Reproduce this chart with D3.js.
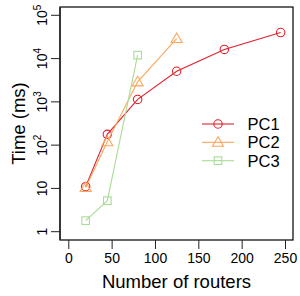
<!DOCTYPE html>
<html>
<head>
<meta charset="utf-8">
<script src="https://cdn.jsdelivr.net/npm/d3@7"></script>
<style>
  body { margin: 0; background: #fff; }
  text { font-family: "Liberation Sans", Arial, sans-serif; fill: #000; }
</style>
</head>
<body>
<svg id="chart"></svg>
<script>
// data
const seriesNames = ['PC1', 'PC2', 'PC3'];
const pc1Routers = [20, 45, 80, 125, 180, 245];
const pc1Time = [11, 178, 1140, 5100, 16300, 40000];
const pc2Routers = [20, 45, 80, 125];
const pc2Time = [10.5, 120, 2900, 29000];
const pc3Routers = [20, 45, 80];
const pc3Time = [1.8, 5.2, 12000];
const xTicks = [0, 50, 100, 150, 200, 250];
const yTicks = [1, 10, 100, 1000, 10000, 100000];

const colors = ['#e2202a', '#fda55a', '#a9dc94'];

const width = 300;
const height = 296;
const box = { left: 60, right: 293, top: 7, bottom: 240 };

const svg = d3.select('#chart')
    .attr('width', width)
    .attr('height', height);

// scales
const xScale = d3.scaleLinear().domain([0, 250]).range([68.3, 285]);
const yScale = d3.scaleLog().domain([1, 100000]).range([231.7, 15.3]);

// box
svg.append('rect')
    .attr('x', box.left)
    .attr('y', box.top)
    .attr('width', box.right - box.left)
    .attr('height', box.bottom - box.top)
    .attr('fill', 'none')
    .attr('stroke', '#000')
    .attr('stroke-width', 1.2);

// x axis
const xAxis = svg.append('g')
    .attr('transform', `translate(0, ${box.bottom})`)
    .call(d3.axisBottom(xScale).tickValues(xTicks).tickSize(9).tickPadding(4));
xAxis.select('.domain').remove();
xAxis.selectAll('line').attr('stroke', '#222');
xAxis.selectAll('text')
    .style('font-size', '14px')
    .style('font-family', '"Liberation Sans", Arial, sans-serif')
    .attr('fill', '#000');

// y axis with rotated power labels
const yAxis = svg.append('g')
    .attr('transform', `translate(${box.left}, 0)`);
yAxis.append('line')
    .attr('x1', 0).attr('x2', 0)
    .attr('y1', box.top).attr('y2', box.bottom)
    .attr('stroke', '#333').attr('stroke-width', 1.8);
yTicks.forEach(v => {
    const y = yScale(v);
    yAxis.append('line')
        .attr('x1', -9).attr('x2', 0)
        .attr('y1', y).attr('y2', y)
        .attr('stroke', '#222');
    const exp = Math.round(Math.log10(v));
    const t = yAxis.append('text')
        .attr('transform', `translate(-13, ${y}) rotate(-90)`)
        .attr('text-anchor', 'middle')
        .style('font-size', '14px');
    if (exp === 0) t.text('1');
    else if (exp === 1) t.text('10');
    else {
        t.append('tspan').text('10');
        t.append('tspan').attr('dy', -6).style('font-size', '10px').text(exp);
    }
});

// axis titles
svg.append('text')
    .attr('x', (box.left + box.right) / 2)
    .attr('y', 288)
    .attr('text-anchor', 'middle')
    .style('font-size', '18.5px')
    .text('Number of routers');

svg.append('text')
    .attr('transform', `translate(25, ${(box.top + box.bottom) / 2}) rotate(-90)`)
    .attr('text-anchor', 'middle')
    .style('font-size', '18.5px')
    .text('Time (ms)');

// series
const series = [
    { name: seriesNames[0], xs: pc1Routers, ys: pc1Time, shape: 'circle' },
    { name: seriesNames[1], xs: pc2Routers, ys: pc2Time, shape: 'triangle' },
    { name: seriesNames[2], xs: pc3Routers, ys: pc3Time, shape: 'square' }
];

const line = d3.line().x(d => xScale(d[0])).y(d => yScale(d[1]));

function drawMarker(g, shape, x, y, color) {
    if (shape === 'circle') {
        g.append('circle').attr('cx', x).attr('cy', y).attr('r', 4.2)
            .attr('fill', 'none').attr('stroke', color).attr('stroke-width', 1.1);
    } else if (shape === 'triangle') {
        g.append('path')
            .attr('d', `M${x},${y - 5.5}L${x + 5.5},${y + 4}L${x - 5.5},${y + 4}Z`)
            .attr('fill', 'none').attr('stroke', color).attr('stroke-width', 1.1);
    } else {
        g.append('rect').attr('x', x - 3.8).attr('y', y - 3.8)
            .attr('width', 7.6).attr('height', 7.6)
            .attr('fill', 'none').attr('stroke', color).attr('stroke-width', 1.1);
    }
}

series.forEach((s, i) => {
    const pts = s.xs.map((x, j) => [x, s.ys[j]]);
    const g = svg.append('g');
    g.append('path')
        .attr('d', line(pts))
        .attr('fill', 'none')
        .attr('stroke', colors[i])
        .attr('stroke-width', 1.1);
    pts.forEach(p => drawMarker(g, s.shape, xScale(p[0]), yScale(p[1]), colors[i]));
});

// legend
const legendY = [124, 142.3, 160.7];
series.forEach((s, i) => {
    const g = svg.append('g');
    g.append('line')
        .attr('x1', 202).attr('x2', 234)
        .attr('y1', legendY[i]).attr('y2', legendY[i])
        .attr('stroke', colors[i]).attr('stroke-width', 1.1);
    drawMarker(g, s.shape, 218, legendY[i], colors[i]);
    g.append('text')
        .attr('x', 247.5)
        .attr('y', legendY[i] + 6)
        .style('font-size', '16.5px')
        .text(s.name);
});
</script>
</body>
</html>
